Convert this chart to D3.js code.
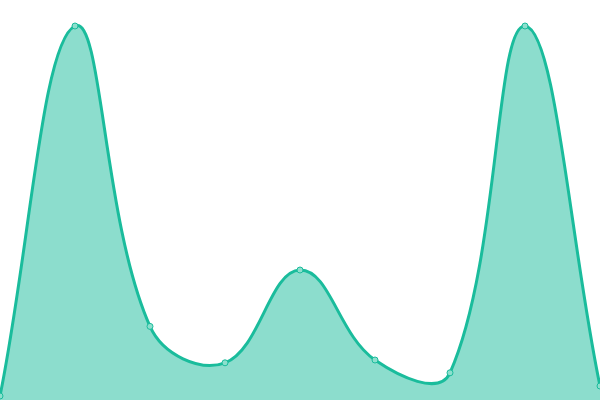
<!DOCTYPE html>
<html>
<head>
<meta charset="utf-8">
<script src="https://cdn.jsdelivr.net/npm/d3@7"></script>
<style>
  html, body { margin: 0; padding: 0; background: #fff; }
  svg { display: block; }
</style>
</head>
<body>
<div id="chart"></div>
<script>
// data
var labels = ["A", "B", "C", "D", "E", "F", "G", "H", "I"];
var values = [1, 93.5, 18.4, 9.3, 32.5, 10, 6.8, 93.5, 3.5];

var w = 600, h = 400;
var tension = 0.4;

var x = d3.scalePoint().domain(labels).range([0, w]);
var y = d3.scaleLinear().domain([0, 100]).range([h, 0]);

var svg = d3.select("#chart").append("svg")
    .attr("width", w)
    .attr("height", h);

var pts = labels.map(function (d, i) { return { x: x(d), y: y(values[i]) }; });

// spline control points, distance weighted, kept inside the chart area
function clampX(v) { return Math.max(0, Math.min(w, v)); }
function clampY(v) { return Math.max(0, Math.min(h, v)); }
pts.forEach(function (p, i) {
    var prev = pts[i - 1] || p, next = pts[i + 1] || p;
    var d01 = Math.hypot(p.x - prev.x, p.y - prev.y);
    var d12 = Math.hypot(next.x - p.x, next.y - p.y);
    var s01 = d01 / (d01 + d12) || 0;
    var s12 = d12 / (d01 + d12) || 0;
    var fa = tension * s01, fb = tension * s12;
    p.cpPrevX = clampX(p.x - fa * (next.x - prev.x));
    p.cpPrevY = clampY(p.y - fa * (next.y - prev.y));
    p.cpNextX = clampX(p.x + fb * (next.x - prev.x));
    p.cpNextY = clampY(p.y + fb * (next.y - prev.y));
});

function linePath() {
    var path = d3.path();
    path.moveTo(pts[0].x, pts[0].y);
    for (var i = 1; i < pts.length; i++) {
        var a = pts[i - 1], b = pts[i];
        path.bezierCurveTo(a.cpNextX, a.cpNextY, b.cpPrevX, b.cpPrevY, b.x, b.y);
    }
    return path.toString();
}

var lineD = linePath();
var last = pts[pts.length - 1];
var areaD = lineD + "L" + last.x + "," + y(0) + "L" + pts[0].x + "," + y(0) + "Z";

svg.append("path")
    .attr("d", areaD)
    .style("fill", "rgba(26,188,156,0.5)");

svg.append("path")
    .attr("d", lineD)
    .style("fill", "none")
    .style("stroke", "#1abc9c")
    .style("stroke-width", 3);

svg.selectAll("circle.pt")
    .data(pts)
    .enter()
    .append("circle")
    .attr("class", "pt")
    .attr("cx", function (d) { return d.x; })
    .attr("cy", function (d) { return d.y; })
    .attr("r", 3)
    .style("fill", "#8ddfcd")
    .style("stroke", "#1abc9c")
    .style("stroke-width", 1);
</script>
</body>
</html>
